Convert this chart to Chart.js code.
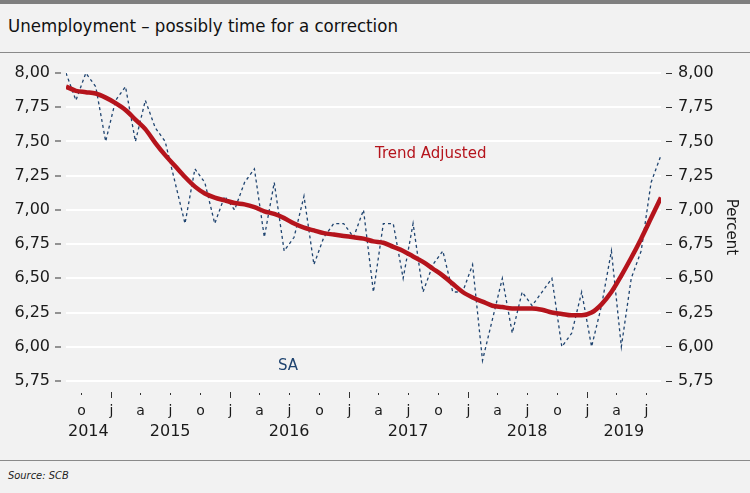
<!DOCTYPE html>
<html>
<head>
<meta charset="utf-8">
<script src="https://cdn.jsdelivr.net/npm/chart.js@4.4.1/dist/chart.umd.min.js"></script>
<style>
  body { margin: 0; background: #f2f2f2; width: 750px; height: 493px; position: relative; overflow: hidden; font-family: 'DejaVu Sans', sans-serif; }
  .topbar { position: absolute; left: 0; top: 0; width: 750px; height: 4px; background: #7f7f7f; }
  .title { position: absolute; left: 8px; top: 15px; font-size: 18.5px; color: #111; font-family: 'DejaVu Sans Condensed', 'DejaVu Sans', sans-serif; }
  .rule { position: absolute; left: 0; width: 750px; height: 1px; background: #8a8a8a; }
  .source { position: absolute; left: 8px; top: 469px; font-size: 11px; font-style: italic; color: #222; font-family: 'DejaVu Sans Condensed', sans-serif; }
  .note { position: absolute; font-size: 15px; }
  #wrap { position: absolute; left: 0; top: 53px; width: 750px; height: 406px; }
</style>
</head>
<body>
<div class="topbar"></div>
<div class="title">Unemployment – possibly time for a correction</div>
<div class="rule" style="top:52px"></div>
<div id="wrap"><canvas id="myChart"></canvas></div>
<div class="note" style="left:375px; top:144px; color:#b5141c;">Trend Adjusted</div>
<div class="note" style="left:278px; top:356px; color:#1f4470;">SA</div>
<div class="rule" style="top:460px"></div>
<div class="source">Source: SCB</div>
<script>
// months Aug 2014 .. Aug 2019
var months = [
  '2014-08', '2014-09', '2014-10', '2014-11', '2014-12',
  '2015-01', '2015-02', '2015-03', '2015-04', '2015-05', '2015-06', '2015-07', '2015-08', '2015-09', '2015-10', '2015-11', '2015-12',
  '2016-01', '2016-02', '2016-03', '2016-04', '2016-05', '2016-06', '2016-07', '2016-08', '2016-09', '2016-10', '2016-11', '2016-12',
  '2017-01', '2017-02', '2017-03', '2017-04', '2017-05', '2017-06', '2017-07', '2017-08', '2017-09', '2017-10', '2017-11', '2017-12',
  '2018-01', '2018-02', '2018-03', '2018-04', '2018-05', '2018-06', '2018-07', '2018-08', '2018-09', '2018-10', '2018-11', '2018-12',
  '2019-01', '2019-02', '2019-03', '2019-04', '2019-05', '2019-06', '2019-07', '2019-08'
];

var saValues = [
  8.0, 7.8, 8.0, 7.9, 7.5,
  7.8, 7.9, 7.5, 7.8, 7.6, 7.5, 7.2, 6.9, 7.3, 7.2, 6.9, 7.1,
  7.0, 7.2, 7.3, 6.8, 7.2, 6.7, 6.8, 7.1, 6.6, 6.8, 6.9, 6.9,
  6.8, 7.0, 6.4, 6.9, 6.9, 6.5, 6.9, 6.4, 6.6, 6.7, 6.4, 6.4,
  6.6, 5.9, 6.2, 6.5, 6.1, 6.4, 6.3, 6.4, 6.5, 6.0, 6.1, 6.4,
  6.0, 6.3, 6.7, 6.0, 6.5, 6.7, 7.2, 7.4
];

var trendValues = [
  7.90, 7.87, 7.86, 7.85, 7.82,
  7.78, 7.73, 7.66, 7.59, 7.49, 7.40, 7.32, 7.24, 7.17, 7.12, 7.09, 7.07,
  7.05, 7.04, 7.02, 6.99, 6.97, 6.94, 6.90, 6.87, 6.85, 6.83, 6.82, 6.81,
  6.80, 6.79, 6.77, 6.76, 6.73, 6.70, 6.66, 6.62, 6.57, 6.52, 6.46, 6.40,
  6.36, 6.33, 6.30, 6.29, 6.28, 6.28, 6.28, 6.27, 6.25, 6.24, 6.23, 6.23,
  6.25, 6.31, 6.40, 6.52, 6.65, 6.79, 6.94, 7.09
];

var tickMonths = ['2014-10', '2015-01', '2015-04', '2015-07', '2015-10', '2016-01', '2016-04', '2016-07', '2016-10',
  '2017-01', '2017-04', '2017-07', '2017-10', '2018-01', '2018-04', '2018-07', '2018-10', '2019-01', '2019-04', '2019-07'];
var tickLetters = ['o', 'j', 'a', 'j', 'o', 'j', 'a', 'j', 'o', 'j', 'a', 'j', 'o', 'j', 'a', 'j', 'o', 'j', 'a', 'j'];
var years = ['2014', '2015', '2016', '2017', '2018', '2019'];

function pairs(values) {
  return values.map(function(v, i) { return { x: i, y: v }; });
}

function fmt(v) {
  return v.toFixed(2).replace('.', ',');
}

// month ticks, letters and years under the plot
var monthAxis = {
  id: 'monthAxis',
  afterDraw: function(chart) {
    var ctx = chart.ctx;
    var xs = chart.scales.x;
    var bottom = chart.chartArea.bottom;
    var last = months.length - 1;
    ctx.save();
    ctx.strokeStyle = '#333';
    ctx.lineWidth = 1;
    ctx.fillStyle = '#1a1a1a';
    ctx.textAlign = 'center';
    ctx.textBaseline = 'middle';
    ctx.font = '14px "DejaVu Sans"';
    tickMonths.forEach(function(m, k) {
      var px = Math.round(xs.getPixelForValue(months.indexOf(m) - 0.5)) + 0.5;
      var tall = m.slice(5) === '01';
      ctx.beginPath();
      ctx.moveTo(px, bottom + (tall ? 11 : 12));
      ctx.lineTo(px, bottom + (tall ? 17 : 14));
      ctx.stroke();
      ctx.fillText(tickLetters[k], px, bottom + 30);
    });
    ctx.font = '16px "DejaVu Sans"';
    years.forEach(function(y) {
      var idx = [];
      months.forEach(function(m, i) { if (m.slice(0, 4) === y) idx.push(i); });
      var a = Math.max(0, idx[0] - 0.5);
      var b = Math.min(last, idx[idx.length - 1] + 0.5);
      ctx.fillText(y, xs.getPixelForValue((a + b) / 2), bottom + 51);
    });
    ctx.restore();
  }
};

var tickFont = { family: 'DejaVu Sans', size: 16 };

var myChart = document.getElementById('myChart').getContext('2d');
var chart = new Chart(myChart, {
  type: 'line',
  data: {
    datasets: [{
      label: 'Trend Adjusted',
      data: pairs(trendValues),
      borderColor: '#b5141c',
      borderWidth: 4.5,
      pointRadius: 0,
      tension: 0.4,
      cubicInterpolationMode: 'monotone'
    }, {
      label: 'SA',
      data: pairs(saValues),
      borderColor: '#1f4470',
      borderWidth: 1.3,
      borderDash: [3, 3],
      pointRadius: 0,
      tension: 0
    }]
  },
  options: {
    responsive: true,
    maintainAspectRatio: false,
    animation: false,
    layout: { padding: { top: 20, bottom: 78, left: 0, right: 0 } },
    plugins: { legend: { display: false }, tooltip: { enabled: false } },
    scales: {
      x: { type: 'linear', min: 0, max: months.length - 1, display: false },
      y: {
        position: 'left', min: 5.75, max: 8,
        ticks: { stepSize: 0.25, callback: fmt, padding: 5, color: '#1a1a1a', font: tickFont },
        grid: { color: '#ffffff', lineWidth: 2, tickColor: '#333', tickWidth: 1, tickLength: 11, tickBorderDash: [6, 20] },
        border: { display: false },
        afterFit: function(s) { s.width = 66; }
      },
      y2: {
        position: 'right', min: 5.75, max: 8,
        ticks: { stepSize: 0.25, callback: fmt, padding: 6, color: '#1a1a1a', font: tickFont },
        grid: { drawOnChartArea: false, tickColor: '#333', tickWidth: 1, tickLength: 11, tickBorderDash: [0, 5, 6, 100] },
        border: { display: false },
        title: { display: true, text: 'Percent', color: '#1a1a1a', font: { family: 'DejaVu Sans', size: 15 }, padding: { top: 10, bottom: 0 } },
        afterFit: function(s) { s.width = 89; }
      }
    }
  },
  plugins: [monthAxis]
});
</script>
</body>
</html>
